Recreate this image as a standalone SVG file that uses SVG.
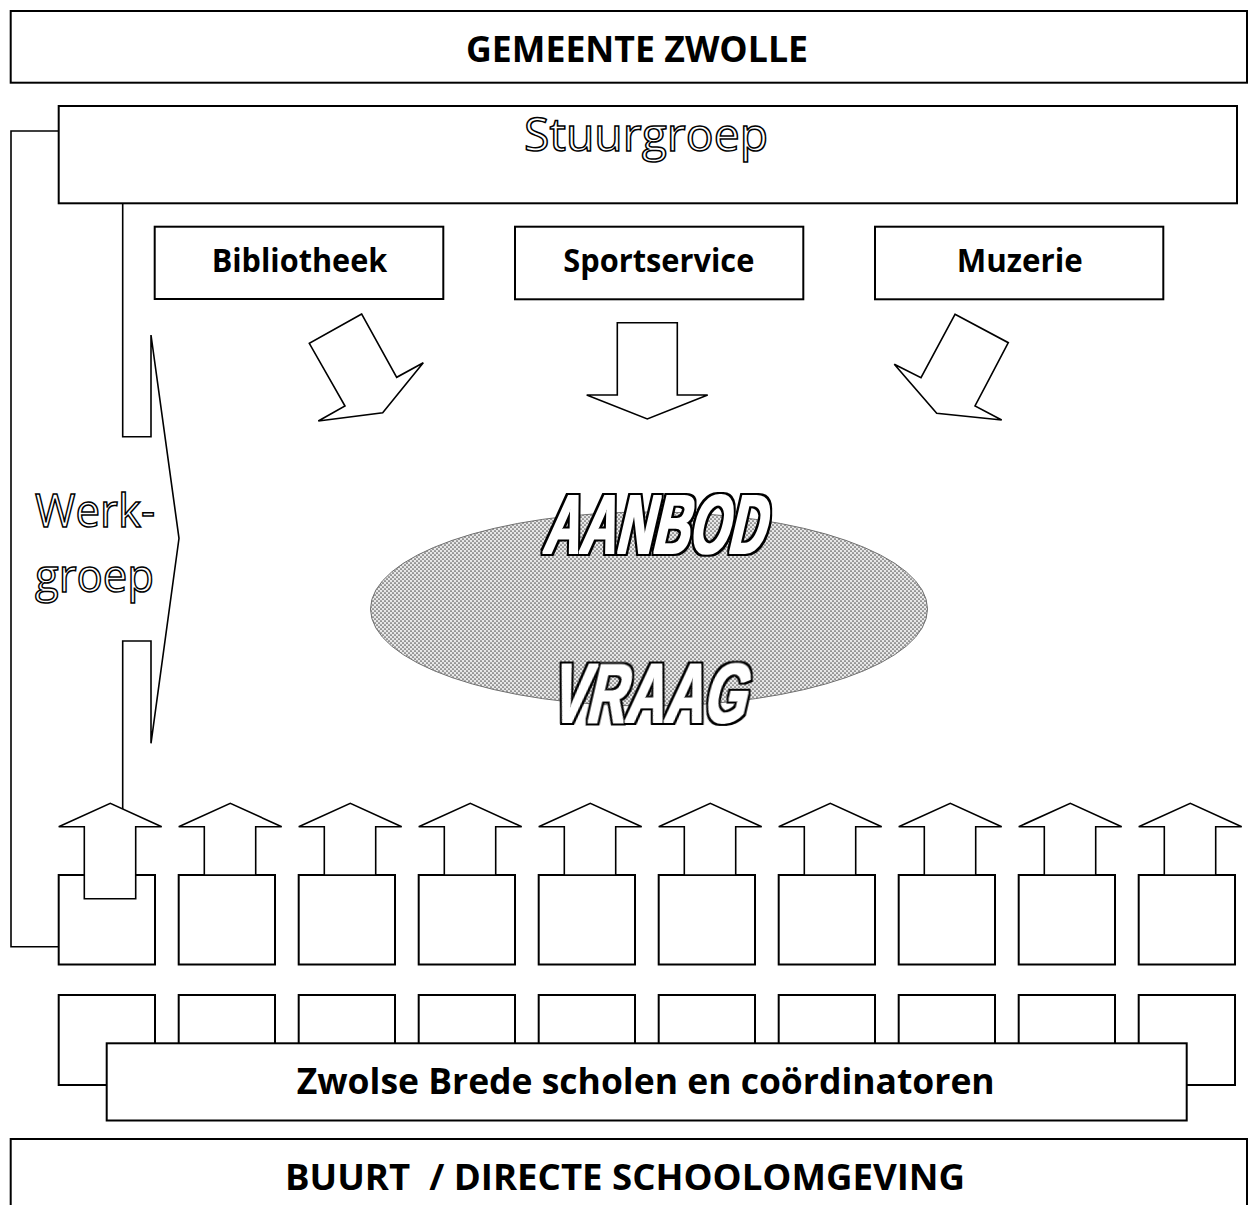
<svg xmlns="http://www.w3.org/2000/svg" width="1257" height="1205" viewBox="0 0 1257 1205">
<defs>
<pattern id="dots" width="4" height="4" patternUnits="userSpaceOnUse">
<rect width="4" height="4" fill="#e8e8e8"/>
<circle cx="1" cy="1" r="0.85" fill="#555"/>
<circle cx="3" cy="3" r="0.85" fill="#555"/>
</pattern>
<filter id="fat" x="-10%" y="-20%" width="120%" height="140%" color-interpolation-filters="sRGB">
<feMorphology in="SourceAlpha" operator="dilate" radius="3.1" result="outer"/>
<feMorphology in="SourceAlpha" operator="dilate" radius="1.4" result="inner"/>
<feFlood flood-color="#000" result="k"/>
<feComposite in="k" in2="outer" operator="in" result="blk"/>
<feFlood flood-color="#fff" result="w"/>
<feComposite in="w" in2="inner" operator="in" result="wht"/>
<feMerge><feMergeNode in="blk"/><feMergeNode in="wht"/></feMerge>
</filter>
</defs>
<style>
.box{fill:#fff;stroke:#000;stroke-width:2}
.ln{fill:none;stroke:#000;stroke-width:1.6}
.arr{fill:#fff;stroke:#000;stroke-width:1.6;stroke-linejoin:miter}
.lbl{font-family:"Open Sans","Liberation Sans",sans-serif;font-weight:bold;fill:#000}
.hollow{font-family:"Open Sans","Liberation Sans",sans-serif;font-size:46px;fill:#fff;stroke:#000;stroke-width:1.5}
.big{font-family:"Liberation Sans","Arial",sans-serif;font-weight:700;fill:#000}
</style>
<rect width="1257" height="1205" fill="#fff"/>

<g id="gemeente">
<rect class="box" x="10.7" y="11" width="1236.3" height="71.7"/>
<text class="lbl" x="466" y="61.7" font-size="35" textLength="342" lengthAdjust="spacingAndGlyphs">GEMEENTE ZWOLLE</text>
</g>

<g id="buurt">
<rect class="box" x="10.7" y="1139" width="1236.3" height="90"/>
<text class="lbl" x="285" y="1190" font-size="35" textLength="680" lengthAdjust="spacingAndGlyphs" xml:space="preserve">BUURT  / DIRECTE SCHOOLOMGEVING</text>
</g>

<g id="stuurgroep">
<rect class="box" x="58.7" y="106" width="1178.3" height="97.3"/>
<text class="hollow" x="524" y="150.7" textLength="244" lengthAdjust="spacingAndGlyphs">Stuurgroep</text>
</g>

<g id="bibliotheek">
<rect class="box" x="154.7" y="226.7" width="288.6" height="72.3"/>
<text class="lbl" x="211.7" y="272" font-size="32" textLength="175.6" lengthAdjust="spacingAndGlyphs">Bibliotheek</text>
</g>
<g id="sportservice">
<rect class="box" x="515" y="226.7" width="288.3" height="72.6"/>
<text class="lbl" x="563.3" y="272" font-size="32" textLength="191" lengthAdjust="spacingAndGlyphs">Sportservice</text>
</g>
<g id="muzerie">
<rect class="box" x="875" y="226.7" width="288.3" height="72.6"/>
<text class="lbl" x="956.7" y="272" font-size="32" textLength="126" lengthAdjust="spacingAndGlyphs">Muzerie</text>
</g>

<g id="werkgroep-label">
<text class="hollow" x="35" y="527.3" textLength="120" lengthAdjust="spacingAndGlyphs">Werk-</text>
<text class="hollow" x="35" y="591.7" textLength="119" lengthAdjust="spacingAndGlyphs">groep</text>
</g>

<g id="aanbod-vraag">
<ellipse cx="649" cy="609" rx="278.5" ry="97" fill="url(#dots)" stroke="#707070" stroke-width="1"/>
<g filter="url(#fat)">
<g transform="translate(542,553) skewX(-13)">
<text class="big" x="0" y="0" font-size="83" textLength="221" lengthAdjust="spacingAndGlyphs">AANBOD</text>
</g>
<g transform="translate(549,722) skewX(-13)">
<text class="big" x="0" y="0" font-size="83" textLength="195" lengthAdjust="spacingAndGlyphs">VRAAG</text>
</g>
</g>
</g>

<g id="school-1"><rect class="box" x="58.7" y="875" width="96.3" height="89.5"/></g>
<g id="school-2"><rect class="box" x="178.7" y="875" width="96.3" height="89.5"/></g>
<g id="school-3"><rect class="box" x="298.7" y="875" width="96.3" height="89.5"/></g>
<g id="school-4"><rect class="box" x="418.7" y="875" width="96.3" height="89.5"/></g>
<g id="school-5"><rect class="box" x="538.7" y="875" width="96.3" height="89.5"/></g>
<g id="school-6"><rect class="box" x="658.7" y="875" width="96.3" height="89.5"/></g>
<g id="school-7"><rect class="box" x="778.7" y="875" width="96.3" height="89.5"/></g>
<g id="school-8"><rect class="box" x="898.7" y="875" width="96.3" height="89.5"/></g>
<g id="school-9"><rect class="box" x="1018.7" y="875" width="96.3" height="89.5"/></g>
<g id="school-10"><rect class="box" x="1138.7" y="875" width="96.3" height="89.5"/></g>

<g id="brede-1"><rect class="box" x="58.7" y="995" width="96.3" height="90"/></g>
<g id="brede-2"><rect class="box" x="178.7" y="995" width="96.3" height="90"/></g>
<g id="brede-3"><rect class="box" x="298.7" y="995" width="96.3" height="90"/></g>
<g id="brede-4"><rect class="box" x="418.7" y="995" width="96.3" height="90"/></g>
<g id="brede-5"><rect class="box" x="538.7" y="995" width="96.3" height="90"/></g>
<g id="brede-6"><rect class="box" x="658.7" y="995" width="96.3" height="90"/></g>
<g id="brede-7"><rect class="box" x="778.7" y="995" width="96.3" height="90"/></g>
<g id="brede-8"><rect class="box" x="898.7" y="995" width="96.3" height="90"/></g>
<g id="brede-9"><rect class="box" x="1018.7" y="995" width="96.3" height="90"/></g>
<g id="brede-10"><rect class="box" x="1138.7" y="995" width="96.3" height="90"/></g>

<g id="zwolse-brede-scholen">
<rect class="box" x="106.7" y="1043.3" width="1080" height="77.2"/>
<text class="lbl" x="296.7" y="1094" font-size="35" textLength="698" lengthAdjust="spacingAndGlyphs">Zwolse Brede scholen en coördinatoren</text>
</g>

<g id="connectors">
<path class="ln" d="M59,131 H11 V946.7 H59"/>
<path class="ln" d="M122.7,203.3 V436.7 H151 V335 L179,538.3 L151,743.3 V641 H122.7 V870"/>
<polygon class="arr" points="361.7,314 309.3,343.3 345,406 318.3,421 382.7,412.7 423.3,362.7 396.7,377.3"/>
<polygon class="arr" points="617.3,322.7 677.3,322.7 677.3,395 707.7,395 647.3,419 586.7,395 617.3,395"/>
<polygon class="arr" points="955,314.3 1008.3,342.7 975,406 1001.7,420 936.7,413.3 894.3,364.3 921,377.7"/>
<polygon class="arr" points="84.3,898.7 84.3,826.7 58.7,826.7 110.3,803.3 161.7,826.7 135.7,826.7 135.7,898.7"/>
<polygon class="arr" points="204.3,875 204.3,826.7 178.7,826.7 230.3,803.3 281.7,826.7 255.7,826.7 255.7,875"/>
<polygon class="arr" points="324.3,875 324.3,826.7 298.7,826.7 350.3,803.3 401.7,826.7 375.7,826.7 375.7,875"/>
<polygon class="arr" points="444.3,875 444.3,826.7 418.7,826.7 470.3,803.3 521.7,826.7 495.7,826.7 495.7,875"/>
<polygon class="arr" points="564.3,875 564.3,826.7 538.7,826.7 590.3,803.3 641.7,826.7 615.7,826.7 615.7,875"/>
<polygon class="arr" points="684.3,875 684.3,826.7 658.7,826.7 710.3,803.3 761.7,826.7 735.7,826.7 735.7,875"/>
<polygon class="arr" points="804.3,875 804.3,826.7 778.7,826.7 830.3,803.3 881.7,826.7 855.7,826.7 855.7,875"/>
<polygon class="arr" points="924.3,875 924.3,826.7 898.7,826.7 950.3,803.3 1001.7,826.7 975.7,826.7 975.7,875"/>
<polygon class="arr" points="1044.3,875 1044.3,826.7 1018.7,826.7 1070.3,803.3 1121.7,826.7 1095.7,826.7 1095.7,875"/>
<polygon class="arr" points="1164.3,875 1164.3,826.7 1138.7,826.7 1190.3,803.3 1241.7,826.7 1215.7,826.7 1215.7,875"/>
</g>
</svg>
